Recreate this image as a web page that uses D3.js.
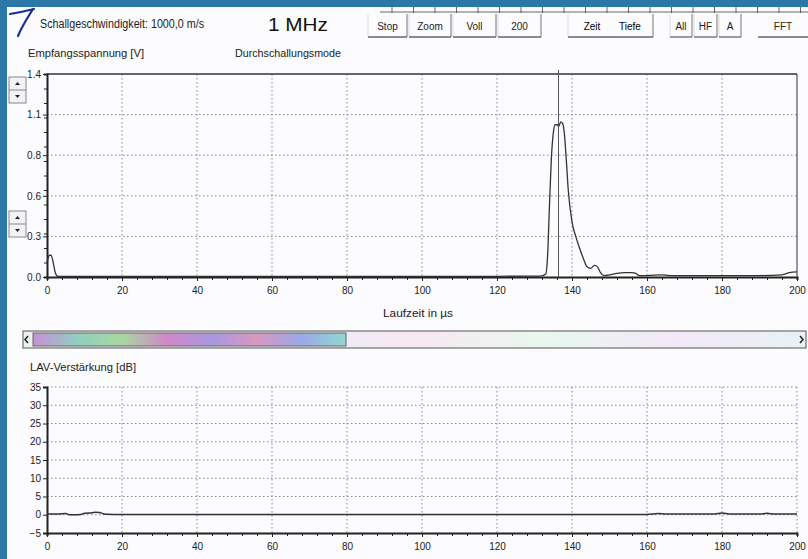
<!DOCTYPE html>
<meta charset="utf-8">
<style>
  body { margin: 0; background: #2b78a6; }
  svg { display: block; font-family: "Liberation Sans Narrow", "Liberation Sans", Arial, sans-serif; }
  .axis path, .axis line { stroke: #222; }
  .axis text { fill: #222; font-size: 10px; }
  .grid line { stroke: #888; stroke-dasharray: 1.5, 2.5; }
  .btn text { font-size: 10px; fill: #222; text-anchor: middle; }
</style>
<svg width="808" height="559"></svg>
<script src="https://d3js.org/d3.v7.min.js"></script>
<script>
// Empfangsspannung (V) ueber Laufzeit (µs)
var timeUs = [0, 0.3, 0.6, 1.0, 1.4, 1.8, 2.2, 2.6, 3, 20, 60, 100, 120, 130, 132, 133, 133.5, 134, 134.5, 135,
  135.5, 136, 136.5, 137, 137.5, 138, 138.5, 139, 140, 141, 142, 143, 144, 145, 146, 146.8, 147.6, 148.5,
  150, 152, 154, 156, 157, 158, 160, 164, 166, 170, 180, 190, 196, 198, 200]
var voltage = [0.10, 0.13, 0.15, 0.15, 0.13, 0.08, 0.03, 0.01, 0.005, 0.005, 0.005, 0.005, 0.005, 0.006, 0.008, 0.02, 0.15, 0.5, 0.82, 0.99,
  1.05, 1.05, 1.04, 1.07, 1.06, 0.98, 0.8, 0.6, 0.38, 0.28, 0.2, 0.13, 0.07, 0.06, 0.08, 0.07, 0.03, 0.01,
  0.015, 0.025, 0.03, 0.03, 0.025, 0.01, 0.01, 0.015, 0.01, 0.01, 0.01, 0.01, 0.015, 0.03, 0.035]
var cursorUs = 136.4

// LAV-Verstaerkung (dB)
var gainTime = [0, 3, 5, 6, 7, 9, 10, 12, 13, 14, 15, 16, 20, 40, 60, 80, 100, 120, 140, 160, 163, 165, 170, 178, 180, 182, 190, 192, 194, 200]
var gainDb = [0.2, 0.2, 0.35, 0.0, 0.0, 0.1, 0.4, 0.55, 0.7, 0.6, 0.3, 0.15, 0.1, 0.1, 0.1, 0.1, 0.1, 0.1, 0.1, 0.1, 0.35, 0.2, 0.2, 0.2, 0.45, 0.2, 0.2, 0.4, 0.2, 0.2]

var xTicks = [0, 20, 40, 60, 80, 100, 120, 140, 160, 180, 200]
var vTicks = [0, 0.28, 0.56, 0.84, 1.12, 1.4]
var dbTicks = [-5, 0, 5, 10, 15, 20, 25, 30, 35]
var buttons = ['Stop', 'Zoom', 'Voll', '200']
var modeButtons = ['Zeit', 'Tiefe']
var viewButtons = ['All', 'HF', 'A']

var svg = d3.select('svg')

// Papier
svg.append('rect').attr('x', 7).attr('y', 7).attr('width', 801).attr('height', 552).attr('fill', '#fcfbfd')

// Lineal oben
var ruler = svg.append('g').attr('stroke', '#444').attr('stroke-width', 0.8)
ruler.append('line').attr('x1', 380).attr('x2', 808).attr('y1', 12).attr('y2', 12)
d3.range(392, 808, 21.5).forEach(function (xx) {
  ruler.append('line').attr('x1', xx).attr('x2', xx).attr('y1', 7).attr('y2', 13)
})

// handschriftliche 7
svg.append('path')
  .attr('d', 'M10,14 C16,13 26,11 34,9 M33,9 C28,17 22,26 18,36')
  .attr('fill', 'none').attr('stroke', '#1b2c95').attr('stroke-width', 2.2).attr('stroke-linecap', 'round')

svg.append('text').attr('x', 40).attr('y', 28).attr('font-size', 12).attr('fill', '#222')
  .attr('textLength', 164).attr('lengthAdjust', 'spacingAndGlyphs')
  .text('Schallgeschwindigkeit: 1000,0 m/s')
svg.append('text').attr('x', 268).attr('y', 31).attr('font-size', 19).attr('fill', '#111')
  .attr('textLength', 60).attr('lengthAdjust', 'spacingAndGlyphs').text('1 MHz')

// Buttons
function button(x0, x1, label, faded) {
  var b = svg.append('g').attr('class', 'btn')
  if (!faded) {
    b.append('line').attr('x1', x0).attr('x2', x0).attr('y1', 14).attr('y2', 37).attr('stroke', '#ddd')
    b.append('line').attr('x1', x1).attr('x2', x1).attr('y1', 14).attr('y2', 37).attr('stroke', '#777')
  }
  b.append('line').attr('x1', x0).attr('x2', x1).attr('y1', 37).attr('y2', 37).attr('stroke', '#666').attr('stroke-width', 1.3)
  b.append('text').attr('x', (x0 + x1) / 2).attr('y', 30).attr('fill', faded ? '#c9b8d8' : '#222').text(label)
}
var btnEdges = [368, 409, 453, 498, 543]
buttons.forEach(function (l, i) { button(btnEdges[i], btnEdges[i + 1] - 2, l) })
button(568, 653, '')
svg.append('text').attr('class', 'btn').attr('x', 592).attr('y', 30).attr('font-size', 10).attr('text-anchor', 'middle').text(modeButtons[0])
svg.append('text').attr('class', 'btn').attr('x', 630).attr('y', 30).attr('font-size', 10).attr('text-anchor', 'middle').text(modeButtons[1])
var viewEdges = [670, 694, 719, 743]
viewButtons.forEach(function (l, i) { button(viewEdges[i], viewEdges[i + 1] - 2, l) })
button(758, 808, 'FFT', true)

svg.append('text').attr('x', 28).attr('y', 57).attr('font-size', 11.5).attr('fill', '#222')
  .attr('textLength', 116).attr('lengthAdjust', 'spacingAndGlyphs').text('Empfangsspannung [V]')
svg.append('text').attr('x', 235).attr('y', 57).attr('font-size', 11.5).attr('fill', '#222')
  .attr('textLength', 106).attr('lengthAdjust', 'spacingAndGlyphs').text('Durchschallungsmode')

// Spinner-Knoepfe
function spinner(y0) {
  var g = svg.append('g')
  g.append('rect').attr('x', 9).attr('y', y0).attr('width', 17).attr('height', 26).attr('fill', '#f3f3f5').attr('stroke', '#888')
  g.append('line').attr('x1', 9).attr('x2', 26).attr('y1', y0 + 13).attr('y2', y0 + 13).attr('stroke', '#888')
  g.append('path').attr('d', 'M15,' + (y0 + 8) + 'l2.5,-3l2.5,3z').attr('fill', '#222')
  g.append('path').attr('d', 'M15,' + (y0 + 18) + 'l2.5,3l2.5,-3z').attr('fill', '#222')
}
spinner(77)
spinner(211)

// ---------- oberes Diagramm ----------
var x = d3.scaleLinear().domain([0, 200]).range([47, 797])
var yV = d3.scaleLinear().domain([0, 1.4]).range([277, 74])

var g1 = svg.append('g')
g1.append('g').attr('class', 'grid').selectAll('line').data(xTicks.slice(1, -1)).join('line')
  .attr('x1', d => x(d)).attr('x2', d => x(d)).attr('y1', 74).attr('y2', 277)
g1.append('g').attr('class', 'grid').selectAll('line').data(vTicks.slice(1, -1)).join('line')
  .attr('x1', 47).attr('x2', 797).attr('y1', d => yV(d)).attr('y2', d => yV(d))
g1.append('line').attr('x1', 47).attr('x2', 797).attr('y1', 74).attr('y2', 74).attr('stroke', '#333').attr('stroke-width', 1.5)
g1.append('line').attr('x1', 797).attr('x2', 797).attr('y1', 74).attr('y2', 277).attr('stroke', '#333')

g1.append('g').attr('class', 'axis').attr('transform', 'translate(0,277)')
  .call(d3.axisBottom(x).tickValues(d3.range(0, 201, 4)).tickSize(3).tickFormat(''))
  .call(g => g.select('.domain').attr('stroke-width', 2))
g1.append('g').attr('class', 'axis').attr('transform', 'translate(0,277)')
  .call(d3.axisBottom(x).tickValues(xTicks).tickSize(4).tickPadding(6))
  .call(g => g.select('.domain').remove())
g1.append('g').attr('class', 'axis').attr('transform', 'translate(47,0)')
  .call(d3.axisLeft(yV).tickValues(d3.range(0, 1.41, 0.1)).tickSize(3).tickFormat(''))
  .call(g => g.select('.domain').attr('stroke-width', 2))
g1.append('g').attr('class', 'axis').attr('transform', 'translate(47,0)')
  .call(d3.axisLeft(yV).tickValues(vTicks).tickSize(4).tickPadding(2).tickFormat(d3.format('.1f')))
  .call(g => g.select('.domain').remove())

var lineV = d3.line().x((d, i) => x(timeUs[i])).y(d => yV(d)).curve(d3.curveMonotoneX)
g1.append('path').datum(voltage).attr('d', lineV).attr('fill', 'none').attr('stroke', '#333').attr('stroke-width', 1.3)
g1.append('line').attr('x1', x(cursorUs)).attr('x2', x(cursorUs)).attr('y1', 70).attr('y2', 277).attr('stroke', '#555')

svg.append('text').attr('x', 418).attr('y', 317).attr('font-size', 11.5).attr('fill', '#222').attr('text-anchor', 'middle')
  .attr('textLength', 70).attr('lengthAdjust', 'spacingAndGlyphs').text('Laufzeit in µs')

// Scrollbalken
var grad = svg.append('defs').append('linearGradient').attr('id', 'rainbow')
var stops = ['#c890d8', '#90cfc0', '#a8d8a0', '#d088c8', '#a898e0', '#d898c0', '#9aa8e8', '#90d8d0']
stops.forEach(function (c, i) { grad.append('stop').attr('offset', i / (stops.length - 1)).attr('stop-color', c) })
var grad2 = svg.select('defs').append('linearGradient').attr('id', 'rainbowFaint')
var stops2 = ['#e8f4ea', '#f6e8f0', '#e8eefa', '#f8e8f2', '#e8f8ee', '#f4e8f8', '#e8f2f6']
stops2.forEach(function (c, i) { grad2.append('stop').attr('offset', i / (stops2.length - 1)).attr('stop-color', c) })
svg.append('rect').attr('x', 23).attr('y', 331).attr('width', 783).attr('height', 17).attr('fill', 'url(#rainbowFaint)').attr('stroke', '#555')
svg.append('rect').attr('x', 33).attr('y', 333).attr('width', 313).attr('height', 13).attr('fill', 'url(#rainbow)').attr('stroke', '#666')
svg.append('path').attr('d', 'M28,336 l-3,3.5 l3,3.5').attr('fill', 'none').attr('stroke', '#222').attr('stroke-width', 1.5)
svg.append('path').attr('d', 'M800,336 l3,3.5 l-3,3.5').attr('fill', 'none').attr('stroke', '#222').attr('stroke-width', 1.5)

// ---------- unteres Diagramm ----------
svg.append('text').attr('x', 30).attr('y', 371).attr('font-size', 11.5).attr('fill', '#222')
  .attr('textLength', 106).attr('lengthAdjust', 'spacingAndGlyphs').text('LAV-Verstärkung [dB]')
var yG = d3.scaleLinear().domain([-5, 35]).range([533, 387])
var g2 = svg.append('g')
g2.append('g').attr('class', 'grid').selectAll('line').data(xTicks.slice(1)).join('line')
  .attr('x1', d => x(d)).attr('x2', d => x(d)).attr('y1', 387).attr('y2', 533)
g2.append('g').attr('class', 'grid').selectAll('line').data(dbTicks.slice(1)).join('line')
  .attr('x1', 47).attr('x2', 797).attr('y1', d => yG(d)).attr('y2', d => yG(d))

g2.append('g').attr('class', 'axis').attr('transform', 'translate(0,533)')
  .call(d3.axisBottom(x).tickValues(d3.range(0, 201, 4)).tickSize(3).tickFormat(''))
  .call(g => g.select('.domain').attr('stroke-width', 2))
g2.append('g').attr('class', 'axis').attr('transform', 'translate(0,533)')
  .call(d3.axisBottom(x).tickValues(xTicks).tickSize(4).tickPadding(6))
  .call(g => g.select('.domain').remove())
g2.append('g').attr('class', 'axis').attr('transform', 'translate(47,0)')
  .call(d3.axisLeft(yG).tickValues(dbTicks).tickSize(4).tickPadding(2))
  .call(g => g.select('.domain').attr('stroke-width', 2))

var lineG = d3.line().x((d, i) => x(gainTime[i])).y(d => yG(d)).curve(d3.curveMonotoneX)
g2.append('path').datum(gainDb).attr('d', lineG).attr('fill', 'none').attr('stroke', '#333').attr('stroke-width', 1.5)
</script>
